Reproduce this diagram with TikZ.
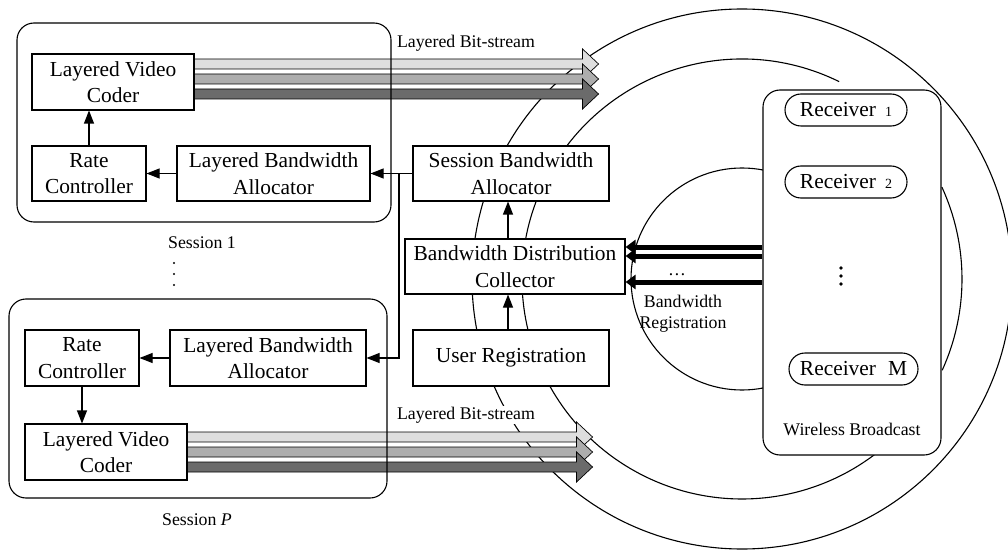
\documentclass[tikz,border=0pt]{standalone}
\usepackage{fontspec}
\setmainfont{Liberation Serif}
\usetikzlibrary{arrows.meta,calc}
\definecolor{bsl}{gray}{0.87}
\definecolor{bsm}{gray}{0.68}
\definecolor{bsd}{gray}{0.42}
\newcommand\bitarrow[4]{%
  \filldraw[fill=#4, line width=0.7pt] ($(#1.east)+(0,#2-5)$) -- ++(#3,0) -- ++(0,-10) -- ++(16,15) -- ++(-16,15) -- ++(0,-10) -- ($(#1.east)+(0,#2+5)$) -- cycle;}
\begin{document}
\begin{tikzpicture}[x=1pt,y=-1pt,
  mainfont/.style={font=\fontsize{21.4pt}{26.5pt}\selectfont},
  labfont/.style={font=\fontsize{17.8pt}{21pt}\selectfont},
  blk/.style={draw, fill=white, line width=1.1pt, inner sep=0pt, align=center, mainfont},
  sess/.style={draw, line width=1.1pt, rounded corners=17pt, inner sep=0pt},
  recv/.style={draw, fill=white, line width=1.1pt, rounded corners=16pt, minimum height=32pt, inner sep=0pt, mainfont},
  conn/.style={line width=1.1pt, -{Triangle[length=13pt,width=10pt]}},
  reg/.style={line width=5pt, -{Triangle[length=10pt,width=14pt]}},
  ring/.style={line width=1.1pt},
  lbl/.style={inner sep=1pt, labfont},
]
\useasboundingbox (0,0) rectangle (1008,553);
% rings
\coordinate (cc) at (742,279);
\draw[ring] (cc) circle[radius=270];
\draw[ring] (cc) ++(-63.8:220) arc[start angle=-63.8, end angle=-310, radius=220];
\draw[ring] (cc) ++(-24.7:220) arc[start angle=-24.7, end angle=24.5, radius=220];
\draw[ring] (cc) circle[radius=111];

% blocks
\node[blk, minimum width=162pt, minimum height=56pt] (lvc1) at (113,82) {Layered Video\\Coder};
\node[blk, minimum width=114pt, minimum height=55pt] (rc1) at (89,173.5) {Rate\\Controller};
\node[blk, minimum width=193pt, minimum height=55pt] (lba1) at (273.5,173.5) {Layered Bandwidth\\Allocator};
\node[blk, minimum width=196pt, minimum height=55pt] (sba) at (511,173.5) {Session Bandwidth\\Allocator};
\node[blk, minimum width=220pt, minimum height=55pt] (bdc) at (515,266.5) {Bandwidth Distribution\\Collector};
\node[blk, minimum width=196pt, minimum height=56pt] (ur) at (511,358) {User Registration};
\node[blk, minimum width=114pt, minimum height=56pt] (rcP) at (82,358) {Rate\\Controller};
\node[blk, minimum width=196pt, minimum height=56pt] (lbaP) at (268,358) {Layered Bandwidth\\Allocator};
\node[blk, minimum width=162pt, minimum height=56pt] (lvcP) at (106,452) {Layered Video\\Coder};

% bit-streams
\bitarrow{lvc1}{-18}{388}{bsl}
\bitarrow{lvc1}{-3}{388}{bsm}
\bitarrow{lvc1}{12}{388}{bsd}
\bitarrow{lvcP}{-15}{389}{bsl}
\bitarrow{lvcP}{0}{389}{bsm}
\bitarrow{lvcP}{15}{389}{bsd}

% session boxes
\node[sess, minimum width=374pt, minimum height=199pt] (s1) at (204,122.5) {};
\node[sess, minimum width=378pt, minimum height=199pt] (sP) at (198,398.5) {};

% connectors
\draw[conn] (rc1.north) -- (rc1.north |- lvc1.south);
\draw[conn] (lba1.west) -- (rc1.east);
\draw[conn] (sba.west) -- (lba1.east);
\coordinate (j) at (399,173.5);
\draw[conn] (j) |- (lbaP.east);
\draw[conn] (lbaP.west) -- (rcP.east);
\draw[conn] (rcP.south) -- (rcP.south |- lvcP.north);
\coordinate (ax) at (508,0);
\draw[conn] (ax |- ur.north) -- (ax |- bdc.south);
\draw[conn] (ax |- bdc.north) -- (ax |- sba.south);

% receivers
\node[draw, fill=white, line width=1.1pt, rounded corners=17pt, minimum width=178pt, minimum height=365pt, inner sep=0pt] (rbox) at (852,272.5) {};
\node[recv, minimum width=122pt] (r1) at (846,110) {Receiver\hspace{9pt}{\fontsize{14pt}{14pt}\selectfont 1}};
\node[recv, minimum width=122pt] (r2) at (846,182) {Receiver\hspace{9pt}{\fontsize{14pt}{14pt}\selectfont 2}};
\node[recv, minimum width=129pt] (rM) at (853.5,369) {Receiver\hspace{12pt}M};
\foreach \yy in {268,276,284} \fill (841,\yy) circle[radius=1.8];
\node[lbl] (wb) at (852,429) {Wireless Broadcast};

% bandwidth registration
\draw[reg] (rbox.west |- 0,247) -- (bdc.east |- 0,247);
\draw[reg] (rbox.west |- 0,256) -- (bdc.east |- 0,256);
\draw[reg] (rbox.west |- 0,282) -- (bdc.east |- 0,282);
\node[lbl, anchor=base] (rdots) at (677,275) {\ldots};
\node[lbl, align=center] (breg) at (683,314) {Bandwidth\\Registration};

% labels
\node[lbl] (bs1) at (466,43) {Layered Bit-stream};
\node[lbl, fill=white] (bs2) at (466,415) {Layered Bit-stream};
\node[lbl] (sl1) at (202,243) {Session 1};
\foreach \yy in {263,274,285} \fill (174,\yy) circle[radius=1.2];
\node[lbl] (slP) at (197,520) {Session \textit{P}};
\end{tikzpicture}
\end{document}
